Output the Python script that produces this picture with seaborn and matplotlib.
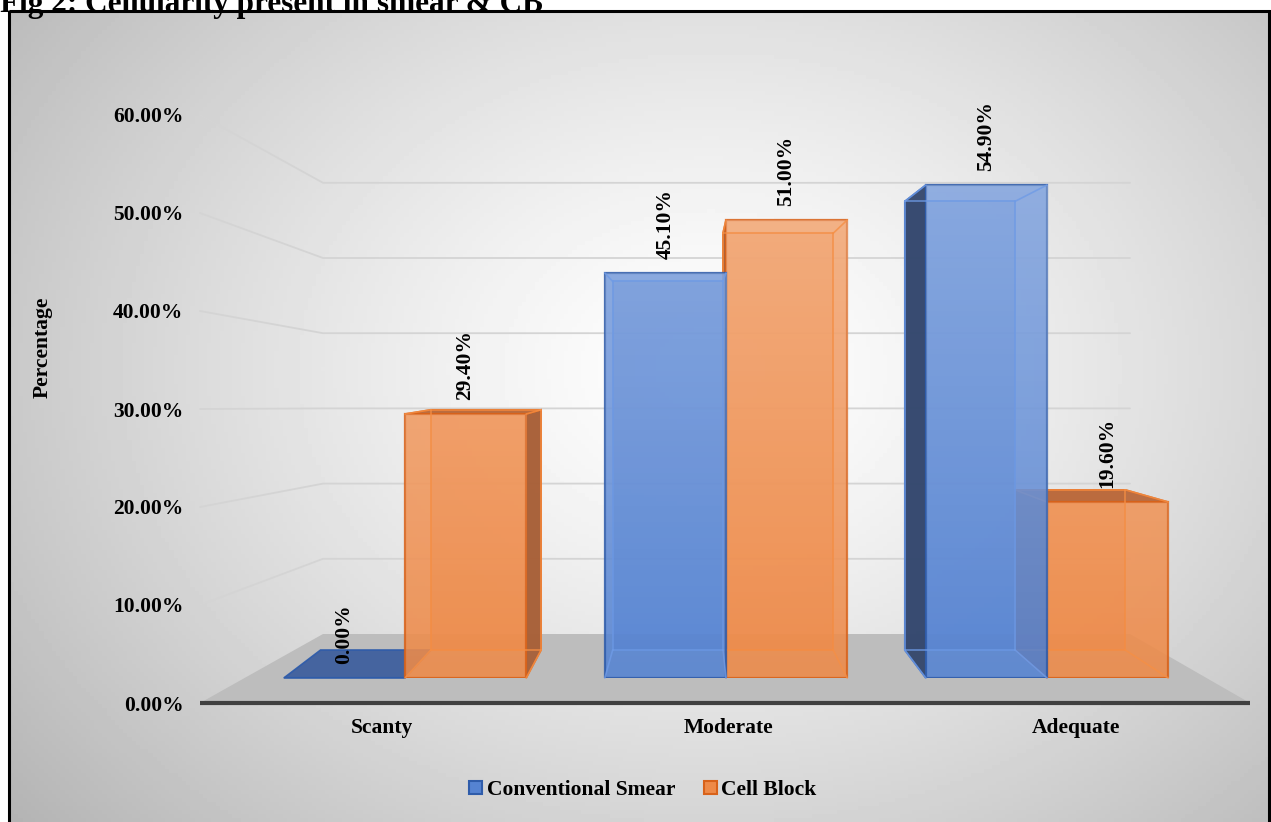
import numpy as np
import pandas as pd
import matplotlib
matplotlib.use('Agg')
import matplotlib.pyplot as plt
import seaborn as sns
from matplotlib.patches import Polygon, Rectangle, Patch

categories = ['Scanty', 'Moderate', 'Adequate']
series = ['Conventional Smear', 'Cell Block']
smear_values = [0.0, 45.1, 54.9]
cell_block_values = [29.4, 51.0, 19.6]
y_ticks = [0, 10, 20, 30, 40, 50, 60]

face_colors = {'Conventional Smear': '#5583D2', 'Cell Block': '#EE8A48'}
edge_colors = {'Conventional Smear': '#2F5CAA', 'Cell Block': '#D8621A'}
line_colors = {'Conventional Smear': '#6F9BE6', 'Cell Block': '#F58F45'}
side_colors = {'Conventional Smear': '#33466B', 'Cell Block': '#A65F38'}
top_colors = {'Conventional Smear': '#3F5F9E', 'Cell Block': '#B9683A'}

df = pd.DataFrame({
    'category': categories * 2,
    'series': [series[0]] * 3 + [series[1]] * 3,
    'value': smear_values + cell_block_values,
})

W, H = 1271, 822
VP = np.array([692.0, 367.0])   # vanishing point of the 3d look (pixels, y down)
DEPTH = 0.91                     # scale of the back face of the bars
FS = 15.5

sns.set_theme(style='white')
plt.rcParams['font.family'] = ['Liberation Serif', 'DejaVu Serif']
plt.rcParams['font.weight'] = 'bold'
plt.rcParams['text.color'] = 'black'
plt.rcParams['ytick.color'] = 'black'

fig = plt.figure(figsize=(W / 100, H / 100), dpi=100)
fig.patch.set_facecolor('white')

# pixel axes for the chart decoration (origin top-left)
bg = fig.add_axes([0, 0, 1, 1], zorder=0)
bg.set_xlim(0, W)
bg.set_ylim(H, 0)
bg.axis('off')

# radial grey background
gx, gy = np.meshgrid(np.linspace(10, 1269, 300), np.linspace(11, 822, 200))
r = np.sqrt(((gx - 710) / 700) ** 2 + ((gy - 370) / 540) ** 2)
shade = 1 - 0.21 * np.clip(r, 0, 1.4) ** 1.3
bg.imshow(shade, extent=(10, 1269, 822, 11), cmap='gray', vmin=0, vmax=1,
          aspect='auto', origin='upper', zorder=0)
bg.add_patch(Rectangle((9, 11), 1260, 830, fill=False, edgecolor='black', lw=2.2, zorder=5))
bg.set_xlim(0, W)
bg.set_ylim(H, 0)

bg.text(0, 12, 'Fig 2: Cellularity present in smear & CB', fontsize=22.5, fontweight='bold',
        ha='left', va='baseline', color='black')

# floor and axis line
bg.add_patch(Polygon([(200, 703), (323, 634), (1130, 634), (1250, 703)], closed=True,
                     facecolor='#BDBDBD', edgecolor='none', zorder=1))
bg.plot([200, 1250], [703, 703], color='#404040', lw=3, zorder=2, solid_capstyle='butt')

# y axis (front plane) for tick labels
ax_y = fig.add_axes([200 / W, (H - 703) / H, 0.0008, 588 / H], zorder=1)
ax_y.set_ylim(0, 60)
ax_y.set_yticks(y_ticks)
ax_y.set_yticklabels([f'{v:.2f}%' for v in y_ticks])
ax_y.set_xticks([])
ax_y.tick_params(axis='y', length=0, pad=12, labelsize=FS, labelcolor='black')
for sp in ax_y.spines.values():
    sp.set_visible(False)
ax_y.patch.set_alpha(0)
fig.text(43 / W, 1 - 347 / H, 'Percentage', rotation=90, ha='center', va='center',
         fontsize=FS, fontweight='bold')

# grid lines: front projection + back wall
for v in y_ticks[1:]:
    yf = bg.transData.inverted().transform(ax_y.transData.transform((0, v)))[1]
    yw = 634 - 75.2 * v / 10
    bg.plot([200, 323, 1130], [yf, yw, yw], color='#D4D4D4', lw=1.3, zorder=1)

# bars
ax = fig.add_axes([244.5 / W, (H - 678) / H, 963 / W, 538.8 / H], zorder=2)
sns.barplot(data=df, x='category', y='value', hue='series', order=categories,
            hue_order=series, palette=face_colors, saturation=1, width=0.755,
            legend=False, ax=ax)
ax.set_xlim(-0.5, 2.5)
ax.set_ylim(0, 60)
ax.axis('off')


def to_px(pts):
    return bg.transData.inverted().transform(ax.transData.transform(pts))


def to_ax(pts):
    return ax.transData.inverted().transform(bg.transData.transform(pts))


overlay = np.zeros((100, 2, 4))
overlay[..., :3] = 1.0
overlay[..., 3] = np.linspace(0.30, 0.0, 100)[:, None]

bars = [(rect, s) for cont, s in zip(ax.containers, series) for rect in cont]
# bars far from the vanishing point are drawn first (they sit behind their neighbours)
dist = [abs(to_px([(r.get_x() + r.get_width() / 2, 0)])[0][0] - VP[0]) for r, _ in bars]
order = np.argsort(dist)[::-1]

for rank, idx in enumerate(order):
    rect, s = bars[idx]
    zb = 3 + rank
    x0 = rect.get_x()
    x1 = x0 + rect.get_width()
    h = rect.get_height()
    F = to_px([(x0, 0), (x1, 0), (x1, h), (x0, h)])
    B = VP + DEPTH * (F - VP)
    Fa, Ba = to_ax(F), to_ax(B)
    kw = dict(edgecolor=edge_colors[s], lw=1.2, clip_on=False, zorder=zb)
    if h > 0:
        ax.add_patch(Polygon(Ba, facecolor=face_colors[s], alpha=0.6, **kw))
    if B[0, 0] < F[0, 0] and h > 0:
        ax.add_patch(Polygon([Fa[0], Fa[3], Ba[3], Ba[0]], facecolor=side_colors[s], alpha=0.95, **kw))
    if B[1, 0] > F[1, 0] and h > 0:
        ax.add_patch(Polygon([Fa[1], Fa[2], Ba[2], Ba[1]], facecolor=side_colors[s], alpha=0.95, **kw))
    if B[2, 1] < F[2, 1] or h == 0:
        ax.add_patch(Polygon([Fa[3], Fa[2], Ba[2], Ba[3]], facecolor=top_colors[s], alpha=0.95, **kw))
    rect.set_edgecolor(edge_colors[s])
    rect.set_linewidth(1.6)
    rect.set_alpha(0.88)
    rect.set_zorder(zb + 0.2)
    if h > 0:
        im = ax.imshow(overlay, extent=(x0, x1, 0, 60), aspect='auto', origin='upper', zorder=zb + 0.3)
        im.set_clip_path(rect)
        # back edges seen through the transparent front
        for a, b in [(0, 1), (1, 2), (2, 3), (3, 0)]:
            ax.plot([Ba[a][0], Ba[b][0]], [Ba[a][1], Ba[b][1]], color=line_colors[s],
                    lw=1.2, alpha=0.8, zorder=zb + 0.4, clip_on=False)
            ax.plot([Fa[a][0], Ba[a][0]], [Fa[a][1], Ba[a][1]], color=line_colors[s],
                    lw=1.2, alpha=0.8, zorder=zb + 0.4, clip_on=False)
    ax.annotate(f'{h:.2f}%', (x0 + (x1 - x0) / 2, h), xytext=(0, 10),
                textcoords='offset points', rotation=90, ha='center', va='bottom',
                fontsize=FS, fontweight='bold', annotation_clip=False, zorder=20)

ax.set_xlim(-0.5, 2.5)
ax.set_ylim(0, 60)

# category labels on the front edge of the floor
k = (703 - VP[1]) / (678 - VP[1])
for i, cat in enumerate(categories):
    px = to_px([(i, 0)])[0]
    bg.text(VP[0] + k * (px[0] - VP[0]), 728, cat, ha='center', va='center',
            fontsize=FS, fontweight='bold', zorder=3)

handles = [Patch(facecolor=face_colors[s], edgecolor=edge_colors[s], lw=1.5) for s in series]
fig.legend(handles, series, loc='center', bbox_to_anchor=(643 / W, 1 - 790 / H), ncol=2,
           frameon=False, prop={'weight': 'bold', 'size': FS}, handlelength=0.6,
           handleheight=0.6, handletextpad=0.2, columnspacing=1.35)

fig.savefig('out.png', dpi=100)
plt.close(fig)
